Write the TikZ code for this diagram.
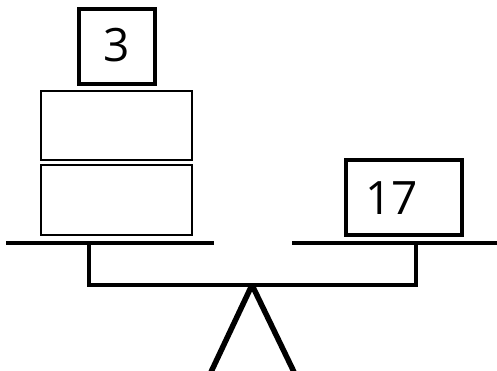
\documentclass[tikz,border=0pt]{standalone}
\usepackage{fontspec}
\setmainfont{Open Sans}
\begin{document}
\begin{tikzpicture}[x=1pt,y=-1pt,
  weightbox/.style={draw=black,line width=4pt,inner sep=0pt,outer sep=0pt,fill=white},
  block/.style={draw=black,line width=2pt,inner sep=0pt,outer sep=0pt,fill=white},
  beam/.style={line width=4pt,line cap=butt},
  numtxt/.style={inner sep=0pt,anchor=base,font=\fontsize{46}{46}\selectfont}]
\useasboundingbox (0,0) rectangle (497,370);
\fill[white] (0,0) rectangle (497,370);
% weights
\node[weightbox,minimum width=76pt,minimum height=75pt] (box3) at (117,46.5) {};
\node[block,minimum width=151pt,minimum height=69pt] (blockA) at (116.5,125.5) {};
\node[block,minimum width=151pt,minimum height=70pt] (blockB) at (116.5,200) {};
\node[weightbox,minimum width=116pt,minimum height=75pt] (box17) at (404,197.5) {};
\node[numtxt] (t3) at (116.5,61) {3};
\node[numtxt] (t17) at (391.5,214) {17};
% fulcrum
\draw[line width=5.5pt,line join=bevel] (211,372) -- (252,285) -- (294,372);
% platforms
\draw[beam] (6,243) -- (214,243);
\draw[beam] (292,243) -- (497,243);
\draw[beam,line join=miter] (89,243) -- (89,284.5) -- (416,284.5) -- (416,243);
\end{tikzpicture}
\end{document}
